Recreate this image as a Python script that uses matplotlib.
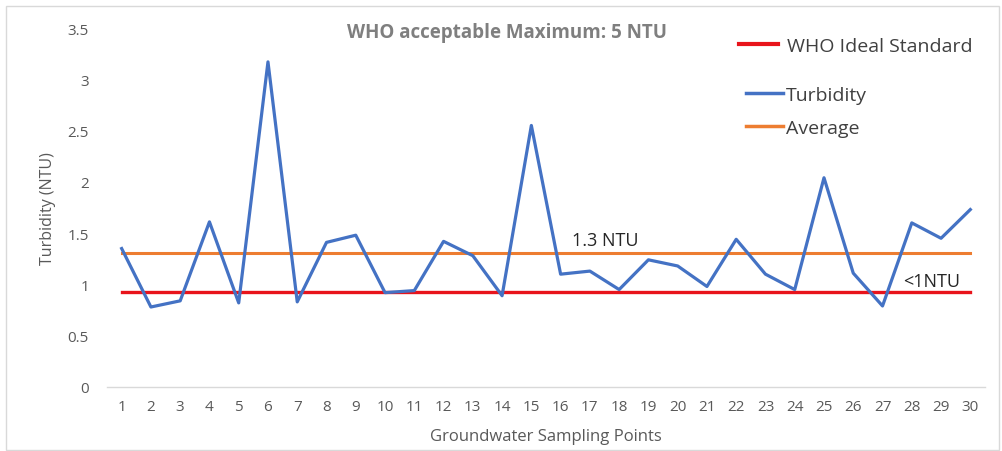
import matplotlib
matplotlib.use("Agg")
import matplotlib.pyplot as plt
from matplotlib.patches import Rectangle
from matplotlib.lines import Line2D

points = list(range(1, 31))
turbidity = [1.35, 0.78, 0.84, 1.61, 0.82, 3.17, 0.83, 1.41, 1.48, 0.92,
             0.94, 1.42, 1.28, 0.89, 2.55, 1.10, 1.13, 0.95, 1.24, 1.18,
             0.98, 1.44, 1.10, 0.95, 2.04, 1.11, 0.79, 1.60, 1.45, 1.73]
who_ideal = 0.93
average = 1.31
yticks = [0, 0.5, 1, 1.5, 2, 2.5, 3, 3.5]
ytick_labels = ["0", "0.5", "1", "1.5", "2", "2.5", "3", "3.5"]

plt.rcParams['font.family'] = ['Open Sans', 'DejaVu Sans']
tick_color = '#595959'

fig = plt.figure(figsize=(10.03, 4.52), dpi=100)
ax = fig.add_axes([0.1067, 0.1416, 0.8753, 0.7942])

c_red = '#E8141B'
c_blue = '#4472C4'
c_orange = '#ED7D31'

ax.plot([points[0], points[-1]], [who_ideal, who_ideal], color=c_red, lw=2.4, zorder=2)
ax.plot([points[0], points[-1]], [average, average], color=c_orange, lw=2.2, zorder=2)
ax.plot(points, turbidity, color=c_blue, lw=2.3, zorder=3)

ax.set_xlim(0.5, 30.5)
ax.set_ylim(0, 3.5)
ax.set_xticks(points)
ax.set_xticklabels([str(p) for p in points])
ax.set_yticks(yticks)
ax.set_yticklabels(ytick_labels)
ax.tick_params(axis='both', length=0, labelsize=11, colors=tick_color)
ax.tick_params(axis='x', pad=9)
ax.tick_params(axis='y', pad=13)
for s in ['top', 'right', 'left']:
    ax.spines[s].set_visible(False)
ax.spines['bottom'].set_color('#D9D9D9')
ax.spines['bottom'].set_linewidth(1.0)

ax.set_ylabel('Turbidity (NTU)', fontsize=11.5, color=tick_color, labelpad=8)
ax.set_xlabel('Groundwater Sampling Points', fontsize=12, color=tick_color, labelpad=10)

fig.text(0.505, 0.926, 'WHO acceptable Maximum: 5 NTU', ha='center', va='center',
         fontsize=13.5, fontweight='bold', color='#7F7F7F')

ax.text(16.4, 1.43, '1.3 NTU', fontsize=13, color='#262626', ha='left', va='center')
ax.text(27.7, 1.03, '<1NTU', fontsize=13, color='#262626', ha='left', va='center')

leg1 = ax.legend([Line2D([0], [0], color=c_red, lw=3)], ['WHO Ideal Standard'],
                 loc='center left', bbox_to_anchor=(0.70, 0.95), frameon=False,
                 fontsize=14, handlelength=2.0, handletextpad=0.45)
for t in leg1.get_texts():
    t.set_color('#404040')
ax.add_artist(leg1)
leg2 = ax.legend([Line2D([0], [0], color=c_blue, lw=2.5),
                  Line2D([0], [0], color=c_orange, lw=2.5)], ['Turbidity', 'Average'],
                 loc='center left', bbox_to_anchor=(0.708, 0.768), frameon=False,
                 fontsize=14, labelspacing=0.75, handlelength=1.9, handletextpad=0.15)
for t in leg2.get_texts():
    t.set_color('#404040')

fig.patches.append(Rectangle((0.006, 0.003), 0.99, 0.982, transform=fig.transFigure,
                             fill=False, edgecolor='#D9D9D9', lw=1.0))

fig.savefig('out.png', dpi=100)
